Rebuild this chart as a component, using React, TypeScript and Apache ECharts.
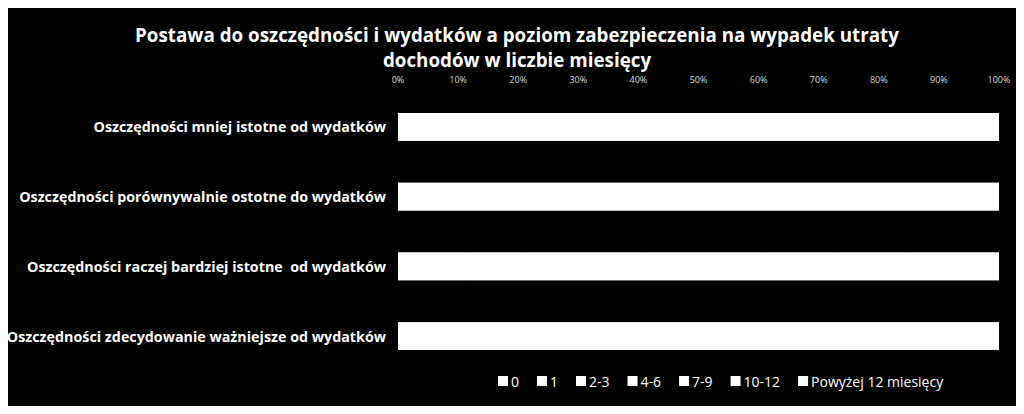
import React, { useEffect, useRef } from "react";
import * as echarts from "echarts";

const categories = [
  "Oszczędności mniej istotne od wydatków",
  "Oszczędności porównywalnie ostotne do wydatków",
  "Oszczędności raczej bardziej istotne  od wydatków",
  "Oszczędności zdecydowanie ważniejsze od wydatków",
];
const seriesNames = ["0", "1", "2-3", "4-6", "7-9", "10-12", "Powyżej 12 miesięcy"];
// percent shares per category (order follows categories)
const s0 = [30, 18, 12, 10];
const s1 = [15, 12, 9, 7];
const s2 = [20, 22, 20, 16];
const s3 = [14, 18, 20, 18];
const s4 = [7, 10, 12, 13];
const s5 = [6, 9, 12, 14];
const s6 = [8, 11, 15, 22];
const seriesValues = [s0, s1, s2, s3, s4, s5, s6];
const xTicks = [0, 10, 20, 30, 40, 50, 60, 70, 80, 90, 100];

export default function App() {
  const ref = useRef<HTMLDivElement>(null);
  useEffect(() => {
    if (!ref.current) return;
    const chart = echarts.init(ref.current, null, { renderer: "svg" });
    const font = "'Open Sans', 'Liberation Sans', sans-serif";
    chart.setOption({
      animation: false,
      backgroundColor: "#000000",
      title: {
        text: "Postawa do oszczędności i wydatków a poziom zabezpieczenia na wypadek utraty\ndochodów w liczbie miesięcy",
        left: 512,
        textAlign: "center",
        top: 17,
        textStyle: {
          color: "#ffffff",
          fontSize: 18.8,
          fontWeight: "bold",
          fontFamily: font,
          lineHeight: 25,
        },
      },
      legend: {
        bottom: 21,
        left: 493,
        itemWidth: 10,
        itemHeight: 10,
        itemGap: 18,
        icon: "rect",
        textStyle: { color: "#ffffff", fontSize: 14, fontFamily: font, padding: [0, 0, 0, -2] },
        data: seriesNames,
      },
      grid: { left: 398, right: 25, top: 92, bottom: 43, containLabel: false },
      xAxis: {
        type: "value",
        position: "top",
        min: 0,
        max: 100,
        interval: 10,
        axisLine: { show: false },
        axisTick: { show: false },
        splitLine: { show: false },
        axisLabel: {
          color: "#d9d9d9",
          fontSize: 9,
          fontFamily: font,
          margin: 8,
          formatter: (v: number) => (xTicks.includes(v) ? v + "%" : ""),
        },
      },
      yAxis: {
        type: "category",
        inverse: true,
        data: categories,
        axisLine: { show: false },
        axisTick: { show: false },
        axisLabel: {
          color: "#ffffff",
          fontSize: 14.3,
          fontWeight: "bold",
          fontFamily: font,
          margin: 12,
        },
      },
      series: seriesNames.map((name, i) => ({
        name,
        type: "bar",
        stack: "total",
        barWidth: "40%",
        data: seriesValues[i],
        showBackground: i === 0,
        backgroundStyle: { color: "#ffffff", opacity: 1 },
        itemStyle: { color: "#ffffff", borderWidth: 0 },
      })),
    });
    return () => chart.dispose();
  }, []);
  return <div ref={ref} style={{ width: 1024, height: 414, margin: -8 }} />;
}
